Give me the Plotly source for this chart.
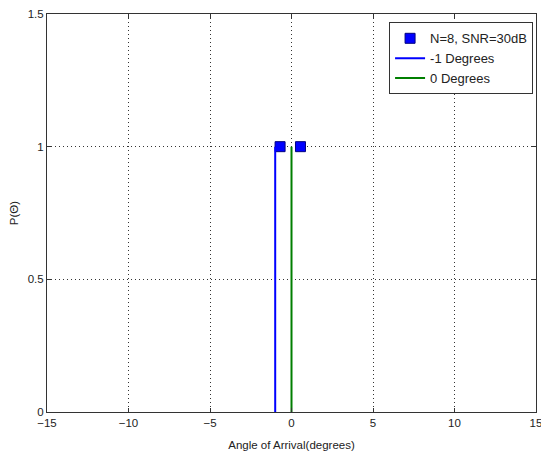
import plotly.graph_objects as go

# Data
marker_x = [-0.7, 0.55]
marker_y = [1, 1]
blue_x = [-1, -1]
blue_y = [0, 1]
green_x = [0, 0]
green_y = [0, 1]
x_ticks = [-15, -10, -5, 0, 5, 10, 15]
y_ticks = [0, 0.5, 1, 1.5]
y_tick_text = ["0", "0.5", "1", "1.5"]

FONT = "Liberation Sans, Arial, sans-serif"
FS = 11.5

fig = go.Figure()
fig.add_trace(go.Scatter(
    x=marker_x, y=marker_y, mode="markers", name="N=8, SNR=30dB",
    marker=dict(symbol="square", size=10, color="#0000ff",
                line=dict(color="#000080", width=1)),
))
fig.add_trace(go.Scatter(
    x=blue_x, y=blue_y, mode="lines", name="-1 Degrees",
    line=dict(color="#0000ff", width=2),
))
fig.add_trace(go.Scatter(
    x=green_x, y=green_y, mode="lines", name="0 Degrees",
    line=dict(color="#007f00", width=2),
))

axis_common = dict(
    showline=True, linecolor="#333333", linewidth=1, mirror="ticks",
    ticks="inside", ticklen=4, tickcolor="#333333",
    showgrid=True, gridcolor="#333333", griddash="1px,3px", gridwidth=1,
    zeroline=False,
    tickfont=dict(family=FONT, size=FS, color="#222222"),
)

fig.update_layout(
    width=541, height=459,
    margin=dict(l=47, r=5, t=14, b=47),
    paper_bgcolor="white", plot_bgcolor="white",
    font=dict(family=FONT, size=FS, color="#222222"),
    showlegend=True,
    legend=dict(
        x=0.994, y=0.979, xanchor="right", yanchor="top",
        bgcolor="white", bordercolor="#333333", borderwidth=1,
        font=dict(family=FONT, size=13, color="#222222"),
        tracegroupgap=0, itemwidth=30,
    ),
    xaxis=dict(range=[-15, 15], tickvals=x_ticks, ticklabeloverflow="allow",
               automargin="bottom",
               title=dict(text="Angle of Arrival(degrees)", standoff=13,
                          font=dict(family=FONT, size=FS)),
               **axis_common),
    yaxis=dict(range=[0, 1.5], tickvals=y_ticks, ticktext=y_tick_text,
               automargin="left",
               title=dict(text="P(Θ)", standoff=6,
                          font=dict(family=FONT, size=FS)),
               **axis_common),
)

fig.write_html(
    "out.html",
    config={"displayModeBar": False},
    post_script="document.body.style.margin='0';document.body.style.overflow='hidden';",
)
